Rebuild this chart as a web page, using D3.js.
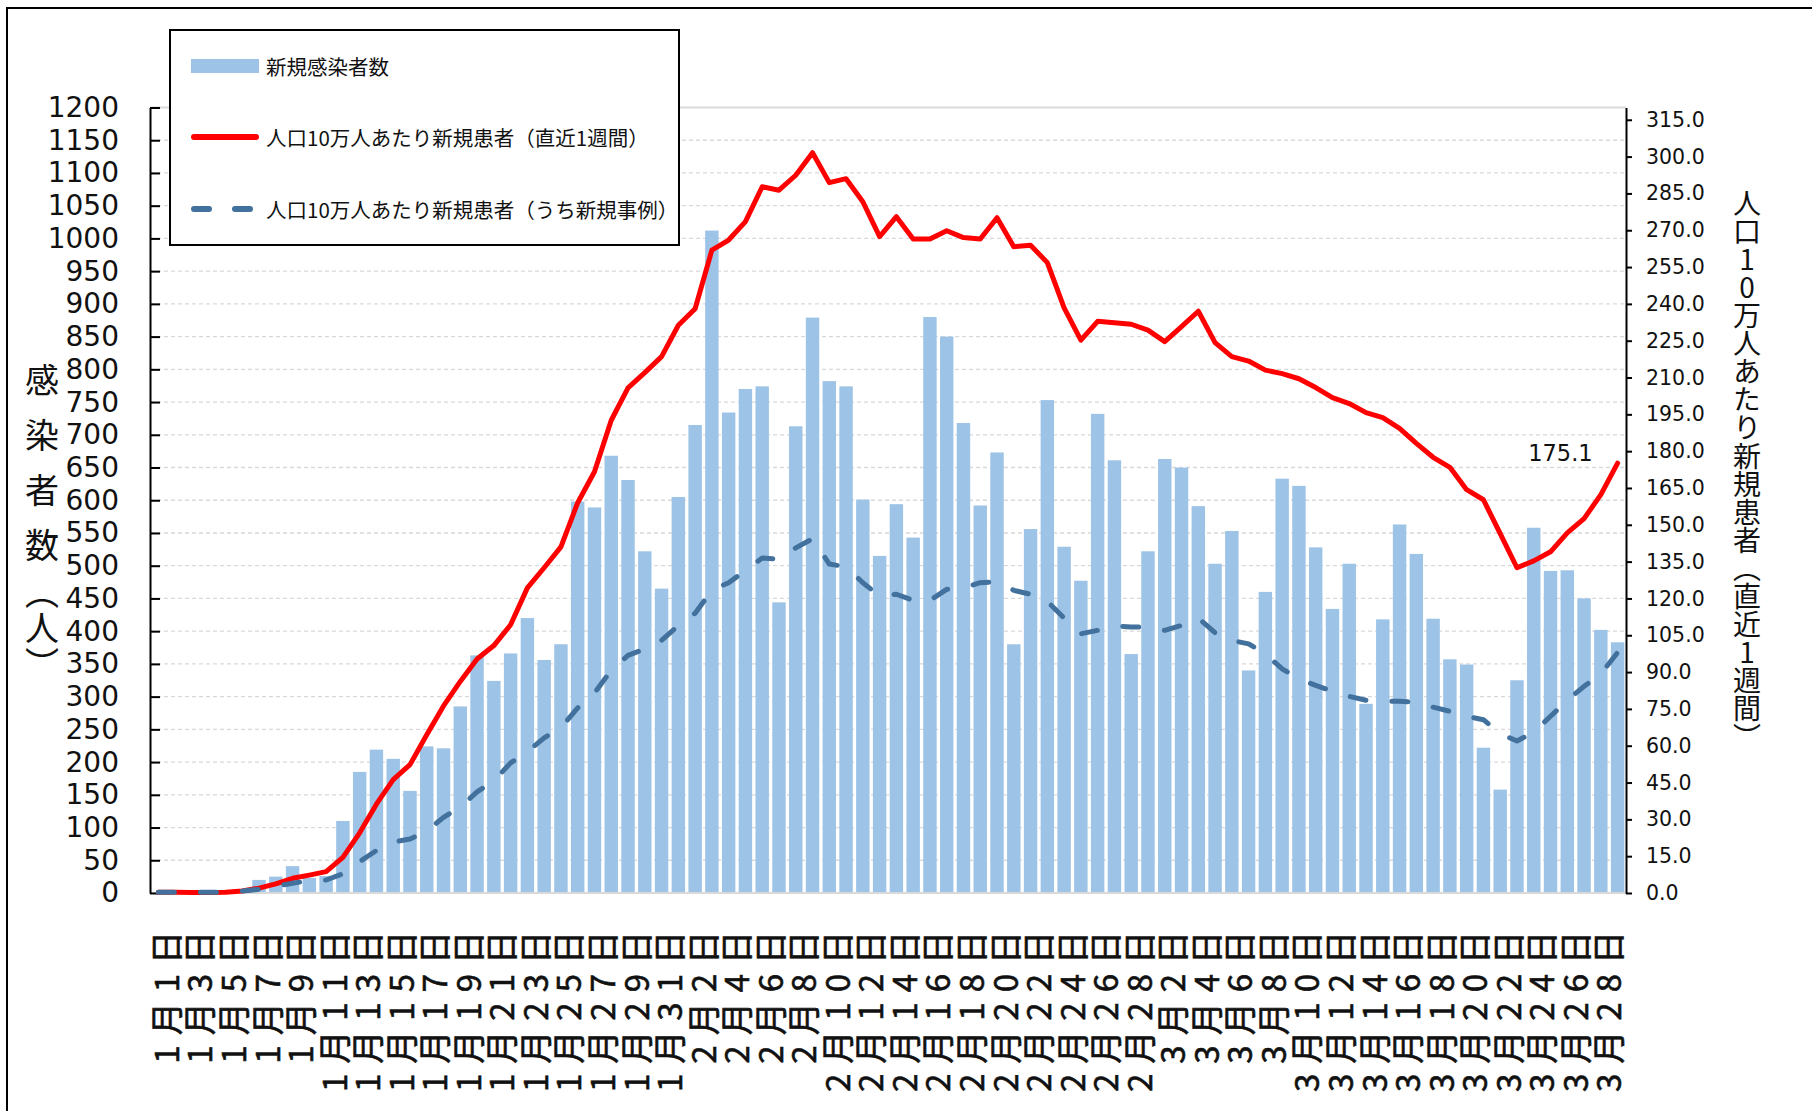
<!DOCTYPE html>
<html>
<head>
<meta charset="utf-8">
<script src="https://cdn.jsdelivr.net/npm/d3@7"></script>
<style>
  body { margin: 0; background: #fff; }
  text { font-family: "Noto Sans CJK JP", "Noto Sans", sans-serif; fill: #111; }
</style>
</head>
<body>
<div id="chart"></div>
<script>
// categories: every day from 1/1 to 3/29
var monthDays = [[1, 31], [2, 28], [3, 29]];
var dates = [];
monthDays.forEach(function (m) {
  for (var d = 1; d <= m[1]; d++) dates.push(m[0] + "月" + d + "日");
});

// 新規感染者数 (left axis)
var cases = [0, 0, 0, 1, 2, 3, 20, 25, 41, 23, 26, 110, 185, 219, 205, 156, 224, 221, 285, 363, 324, 366,
  420, 356, 380, 598, 589, 668, 631, 522, 465,
  605, 715, 1012, 734, 770, 774, 444, 713, 879, 782, 774, 601, 515, 594, 543, 880, 850, 718, 592, 673,
  380, 556, 753, 529, 477, 732, 661, 365,
  522, 663, 650, 591, 503, 553, 340, 460, 633, 622, 528, 434, 503, 289, 418, 563, 518, 419, 357, 349,
  222, 158, 325, 558, 492, 493, 450, 402, 383];

// 人口10万人あたり新規患者（直近1週間） (right axis)
var rate = [0.3, 0.3, 0.2, 0.2, 0.3, 0.8, 2, 3.7, 6, 7.3, 8.7, 14.5, 24.5, 36.2, 46.2, 52.3, 64.5, 76.2,
  86.2, 95.3, 100.8, 109.3, 124.3, 132.5, 141, 159, 171.6, 192.6, 205.8, 212, 218.5,
  231.3, 238, 261.9, 266, 273.5, 287.7, 286.3, 292.4, 301.6, 289.4, 291, 281.6, 267.4, 275.5, 266.4,
  266.4, 269.8, 267, 266.4, 275.1, 263.3, 263.9, 256.8, 238.4, 225.2, 232.9, 232.3,
  231.7, 229.3, 224.6, 230.7, 237, 224.2, 218.5, 216.7, 213, 211.6, 209.5, 205.9, 201.8, 199.4, 195.7,
  193.7, 189.3, 183.2, 177.5, 173.4, 164.3, 160.2, 146.4, 132.5, 135.3, 139, 146.7, 152.5, 162.3, 175.1];

// 人口10万人あたり新規患者（うち新規事例） (right axis)
var rateNew = [0.3, 0.3, 0.3, 0.3, 0.3, 0.8, 1.5, 2.8, 4, 5, 5.3, 7.8, 12.8, 17.3, 20.7, 22, 25.3, 30.8,
  35, 41.2, 45.7, 53, 57.5, 63.2, 67.3, 75.4, 81.5, 90.7, 96.8, 99.4, 102.9,
  109, 114, 123.3, 126.4, 131.4, 136.5, 135.9, 140.6, 144.3, 134, 132.9, 126.4, 121, 121.7, 119.2,
  119.2, 123.7, 124.3, 126.4, 126.8, 123.3, 121.7, 118.8, 112, 105.6, 107, 108.8,
  108.4, 108.4, 107, 109, 112, 106, 102.9, 101.5, 97.4, 91.3, 87.2, 84.6, 82.2, 80.1, 78.5,
  78.1, 78.1, 77.7, 75.7, 74, 72, 70.6, 64.9, 61.9, 65.5, 72, 78.5, 84.2, 89.2, 98];

var leftTicks = d3.range(0, 1201, 50);
var rightTicks = d3.range(0, 316, 15);
var seriesNames = ["新規感染者数", "人口10万人あたり新規患者（直近1週間）", "人口10万人あたり新規患者（うち新規事例）"];
var leftTitle = "感染者数";
var leftUnit = "（人）";
var rightTitle = "人口10万人あたり新規患者（直近1週間）";

var width = 1812, height = 1111;
var plot = {left: 150, right: 1626, top: 107.5, bottom: 893};

var svg = d3.select("#chart")
  .append("svg")
    .attr("width", width)
    .attr("height", height);

svg.append("rect").attr("width", width).attr("height", height).attr("fill", "#fff");

// chart frame (cut off at right and bottom like the source)
svg.append("rect")
  .attr("x", 7).attr("y", 8)
  .attr("width", 2000).attr("height", 2000)
  .attr("fill", "none").attr("stroke", "#000").attr("stroke-width", 2);

var x = d3.scaleBand()
  .domain(dates)
  .range([plot.left, plot.right])
  .paddingInner(0.2)
  .paddingOuter(0.1);

var yL = d3.scaleLinear().domain([0, 1200]).range([plot.bottom, plot.top]);
var yR = d3.scaleLinear().domain([0, 320]).range([plot.bottom, plot.top]);

function cx(i) { return x(dates[i]) + x.bandwidth() / 2; }

// gridlines
svg.append("g")
  .selectAll("line")
  .data(leftTicks.filter(function (v) { return v > 0; }))
  .enter().append("line")
    .attr("x1", plot.left).attr("x2", plot.right)
    .attr("y1", function (d) { return yL(d); })
    .attr("y2", function (d) { return yL(d); })
    .attr("stroke", "#d9d9d9")
    .attr("stroke-width", function (d) { return d == 1200 ? 2 : 1.3; })
    .attr("stroke-dasharray", function (d) { return d == 1200 ? null : "4,3"; });

// bars
svg.append("g")
  .selectAll("rect")
  .data(cases)
  .enter().append("rect")
    .attr("x", function (d, i) { return x(dates[i]); })
    .attr("y", function (d) { return yL(d); })
    .attr("width", x.bandwidth())
    .attr("height", function (d) { return yL(0) - yL(d); })
    .attr("fill", "#9dc3e6");

// category baseline
svg.append("line")
  .attr("x1", plot.left).attr("x2", plot.right)
  .attr("y1", plot.bottom).attr("y2", plot.bottom)
  .attr("stroke", "#d9d9d9").attr("stroke-width", 2);

// left axis, ticks point inward
var gl = svg.append("g")
  .attr("transform", "translate(" + plot.left + ",0)")
  .call(d3.axisLeft(yL).tickValues(leftTicks).tickSizeInner(-10).tickSizeOuter(0)
    .tickPadding(31).tickFormat(d3.format("d")));
gl.select(".domain").attr("stroke", "#000").attr("stroke-width", 2);
gl.selectAll(".tick line").attr("stroke", "#000").attr("stroke-width", 2);
gl.selectAll(".tick text")
  .style("font-family", "'DejaVu Sans', sans-serif")
  .style("font-size", "28px")
  .attr("fill", "#111");

// right axis
var gr = svg.append("g")
  .attr("transform", "translate(" + plot.right + ",0)")
  .call(d3.axisRight(yR).tickValues(rightTicks).tickSizeInner(6).tickSizeOuter(0)
    .tickPadding(14).tickFormat(d3.format(".1f")));
gr.select(".domain").attr("stroke", "#000").attr("stroke-width", 2);
gr.selectAll(".tick line").attr("stroke", "#000").attr("stroke-width", 2);
gr.selectAll(".tick text")
  .style("font-family", "'DejaVu Sans', sans-serif")
  .style("font-size", "20.5px")
  .attr("fill", "#111");

// lines
var line = d3.line()
  .x(function (d, i) { return cx(i); })
  .y(function (d) { return yR(d); });

svg.append("path")
  .datum(rate)
  .attr("d", line)
  .attr("fill", "none")
  .attr("stroke", "#ff0000")
  .attr("stroke-width", 5)
  .attr("stroke-linejoin", "round")
  .attr("stroke-linecap", "round");

svg.append("path")
  .datum(rateNew)
  .attr("d", line)
  .attr("fill", "none")
  .attr("stroke", "#41719c")
  .attr("stroke-width", 5)
  .attr("stroke-dasharray", "16,26")
  .attr("stroke-linejoin", "round")
  .attr("stroke-linecap", "round");

// value label on the last point
var last = rate.length - 1;
svg.append("text")
  .attr("x", cx(last) - 25)
  .attr("y", yR(rate[last]) - 10)
  .attr("text-anchor", "end")
  .attr("dominant-baseline", "central")
  .style("font-family", "'DejaVu Sans', sans-serif")
  .style("font-size", "22.5px")
  .text(rate[last].toFixed(1));

// date labels, every other day, rotated
svg.append("g")
  .selectAll("text")
  .data(dates.filter(function (d, i) { return i % 2 == 0; }))
  .enter().append("text")
    .attr("transform", function (d) {
      return "translate(" + (x(d) + x.bandwidth() / 2 + 9) + ",921) rotate(-90)";
    })
    .attr("text-anchor", "end")
    .attr("dy", "0.35em")
    .style("font-size", "33px")
    .style("letter-spacing", "10px")
    .attr("stroke", "#111")
    .attr("stroke-width", 0.6)
    .text(function (d) { return d; });

// vertical titles, upright glyphs
function vText(str, xPos, yTop, size, spacing) {
  return svg.append("text")
    .attr("x", xPos)
    .attr("y", yTop)
    .style("writing-mode", "vertical-rl")
    .style("text-orientation", "upright")
    .style("font-size", size + "px")
    .style("letter-spacing", spacing + "px")
    .text(str);
}
vText(leftTitle, 42, 363, 34, 21);
vText(leftUnit, 42, 592, 34, 2).style("font-feature-settings", "'vhal' 1");
vText(rightTitle, 1747, 189, 28, 0.1);

// legend
var lg = svg.append("g");
lg.append("rect")
  .attr("x", 170).attr("y", 30).attr("width", 509).attr("height", 215)
  .attr("fill", "#fff").attr("stroke", "#000").attr("stroke-width", 2);
var ly = [66, 137, 209];
lg.append("rect").attr("x", 191).attr("y", ly[0] - 7).attr("width", 68).attr("height", 14).attr("fill", "#9dc3e6");
lg.append("line").attr("x1", 194).attr("x2", 256).attr("y1", ly[1]).attr("y2", ly[1])
  .attr("stroke", "#ff0000").attr("stroke-width", 6).attr("stroke-linecap", "round");
lg.append("line").attr("x1", 194).attr("x2", 256).attr("y1", ly[2]).attr("y2", ly[2])
  .attr("stroke", "#41719c").attr("stroke-width", 6).attr("stroke-linecap", "round")
  .attr("stroke-dasharray", "15,26");
lg.selectAll(".lgtext")
  .data(seriesNames)
  .enter().append("text")
    .attr("x", 266)
    .attr("y", function (d, i) { return ly[i]; })
    .attr("dominant-baseline", "central")
    .style("font-size", "20.5px")
    .text(function (d) { return d; });
</script>
</body>
</html>
